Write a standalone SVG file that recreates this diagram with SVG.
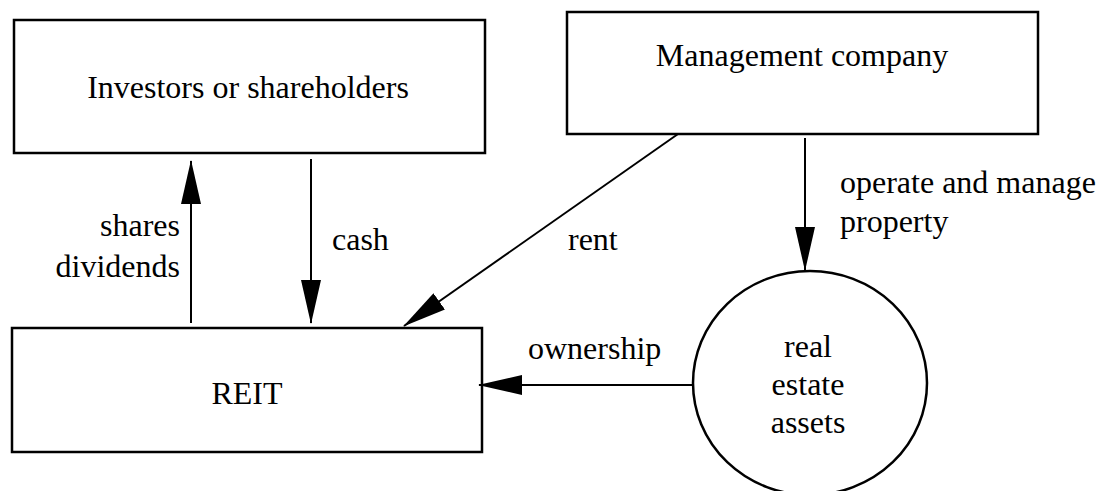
<svg xmlns="http://www.w3.org/2000/svg" width="1104" height="491" viewBox="0 0 1104 491">
<style>
.box{fill:#fff;stroke:#000;stroke-width:2.5}
.t{font-family:"Liberation Serif","Times New Roman",serif;font-size:32px;fill:#000}
.c{stroke:#000;stroke-width:2;fill:none}
</style>
<defs>
<marker id="ah" markerUnits="userSpaceOnUse" markerWidth="44" markerHeight="22" viewBox="0 -11 44 22" refX="43" refY="0" orient="auto">
<path d="M0,-10 L44,0 L0,10 Z" fill="#000"/>
</marker>
</defs>
<rect width="1104" height="491" fill="#fff"/>
<g id="investors">
<rect class="box" x="14" y="20" width="471" height="133"/>
<text class="t" x="248" y="98" text-anchor="middle">Investors or shareholders</text>
</g>
<g id="management">
<rect class="box" x="567" y="12" width="471" height="122"/>
<text class="t" x="802" y="66" text-anchor="middle">Management company</text>
</g>
<g id="reit">
<rect class="box" x="12" y="328" width="470" height="124"/>
<text class="t" x="247" y="404" text-anchor="middle">REIT</text>
</g>
<g id="assets">
<ellipse class="box" cx="810" cy="383" rx="117" ry="112" stroke-width="2"/>
<text class="t" x="808" y="357" text-anchor="middle">real</text>
<text class="t" x="808" y="395" text-anchor="middle">estate</text>
<text class="t" x="808" y="433" text-anchor="middle">assets</text>
</g>
<g id="connectors">
<line class="c" x1="191" y1="323" x2="191" y2="161" marker-end="url(#ah)"/>
<line class="c" x1="311" y1="159" x2="311" y2="323" marker-end="url(#ah)"/>
<line class="c" x1="678" y1="134" x2="404" y2="326" marker-end="url(#ah)"/>
<line class="c" x1="805" y1="138" x2="805" y2="270" marker-end="url(#ah)"/>
<line class="c" x1="693" y1="385" x2="479" y2="385" marker-end="url(#ah)"/>
<text class="t" x="180" y="236" text-anchor="end">shares</text>
<text class="t" x="180" y="277" text-anchor="end">dividends</text>
<text class="t" x="332" y="250">cash</text>
<text class="t" x="568" y="250">rent</text>
<text class="t" x="840" y="193">operate and manage</text>
<text class="t" x="840" y="232">property</text>
<text class="t" x="528" y="359">ownership</text>
</g>
</svg>
